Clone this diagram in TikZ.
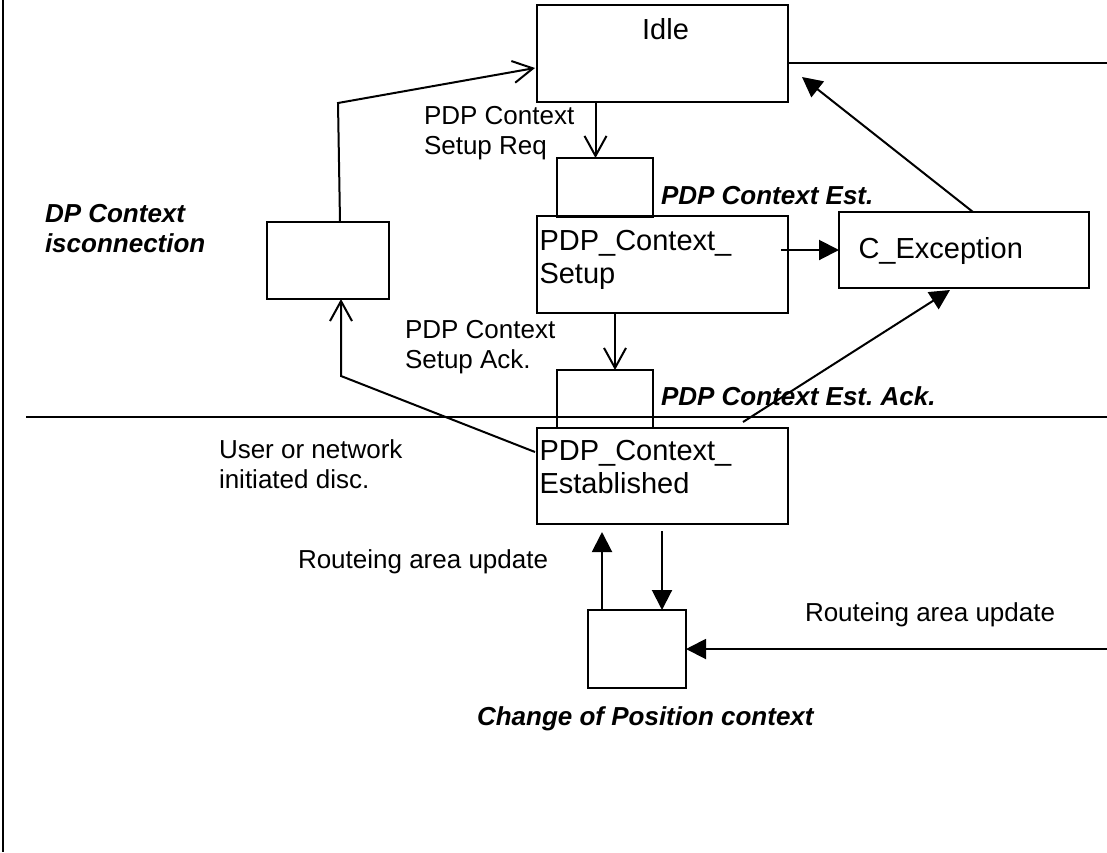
\documentclass[tikz,border=0pt]{standalone}
\usepackage{fontspec}
\setmainfont{Liberation Sans}
\frenchspacing
\usetikzlibrary{arrows.meta,calc}
\begin{document}
\begin{tikzpicture}[x=1pt,y=-1pt,
  every node/.style={inner sep=0pt,outer sep=0pt},
  box/.style={draw,line width=2pt,rectangle,anchor=north west},
  boxtxt/.style={font=\fontsize{29}{33}\selectfont,align=left,anchor=north west},
  txt/.style={font=\fontsize{26}{30}\selectfont,align=left,anchor=west},
  btxt/.style={font=\fontsize{26}{30}\selectfont\bfseries\itshape,align=left,anchor=west},
  ln/.style={line width=2pt},
  openarr/.style={line width=2pt,-{Straight Barb[length=20pt,width=22pt,line width=2pt]}},
  fillarr/.style={line width=2pt,-{Triangle[length=20pt,width=20pt]}}
]
\useasboundingbox (0,0) rectangle (1107,852);

% boxes
\node[box,minimum width=251pt,minimum height=97pt] (idle) at (537,5) {};
\node[box,minimum width=96pt,minimum height=59pt] (est1) at (557,158) {};
\node[box,minimum width=251pt,minimum height=97pt] (setup) at (537,216) {};
\node[box,minimum width=250pt,minimum height=76pt] (cexc) at (839,212) {};
\node[box,minimum width=96pt,minimum height=58pt] (est2) at (557,370) {};
\node[box,minimum width=251pt,minimum height=96pt] (estab) at (537,428) {};
\node[box,minimum width=122pt,minimum height=77pt] (disc) at (267,222) {};
\node[box,minimum width=98pt,minimum height=78pt] (pos) at (588,610) {};

% texts in boxes
\node[boxtxt,anchor=north] (tidle) at (665.5,18) {Idle};
\node[boxtxt] (tsetup) at (539.5,230) {PDP\_Context\_\\Setup};
\node[boxtxt] (testab) at (539.5,440) {PDP\_Context\_\\Established};
\node[boxtxt] (tcexc) at (858.5,237) {C\_Exception};

% labels
\node[btxt] (lest) at (661,196) {PDP Context Est.};
\node[btxt] (lack) at (661,396) {PDP Context Est. Ack.};
\node[btxt] (ldisc) at (45,229) {DP Context\\isconnection};
\node[txt] (lreq) at (424,133) {PDP Context\\Setup Req};
\node[txt] (lsack) at (405,347) {PDP Context\\Setup Ack.};
\node[txt] (luser) at (219,464) {User or network\\initiated disc.};
\node[txt] (lrau1) at (298,562) {Routeing area update};
\node[txt] (lrau2) at (805,615) {Routeing area update};
\node[btxt] (lpos) at (477,719) {Change of Position context};

% plain lines
\coordinate (ltop) at (3,0);
\coordinate (lbot) at (3,852);
\draw[line width=2.4pt] (ltop) -- (lbot);
\coordinate (hl) at (26,417);
\coordinate (hr) at (1107,417);
\draw[ln] (hl) -- (hr);
\coordinate (ir) at (1107,63);
\draw[ln] ($(idle.north east)+(0,58)$) -- (ir);

% connectors
\draw[openarr] ($(idle.south west)+(58.5,0)$) -- ($(est1.north west)+(38.5,0)$);
\draw[openarr] ($(setup.south west)+(78,0)$) -- ($(est2.north west)+(58,0)$);
\draw[fillarr] ($(setup.east |- cexc.west)+(-7,0)$) -- (cexc.west);
\coordinate (idlein) at ($(idle.south east)+(14,-25)$);
\draw[fillarr] ($(cexc.north west)+(134,0)$) -- (idlein);
\draw[fillarr] ($(estab.north west)+(206,-6)$) -- ($(cexc.south west)+(111,2)$);
\coordinate (c1) at (341,376);
\draw[openarr] ($(estab.north west)+(-2,24)$) -- (c1) -- ($(disc.south west)+(74,0)$);
\coordinate (c2) at (338,103);
\draw[openarr] ($(disc.north west)+(73,0)$) -- (c2) -- ($(idle.south west)+(-2,-34)$);
\draw[fillarr] ($(pos.north west)+(14,0)$) -- ($(estab.south west)+(65,8)$);
\draw[fillarr] ($(estab.south west)+(125,7)$) -- ($(pos.north west)+(74,0)$);
\coordinate (pr) at (1107,649);
\draw[fillarr] (pr) -- (pos.east);
\end{tikzpicture}
\end{document}
